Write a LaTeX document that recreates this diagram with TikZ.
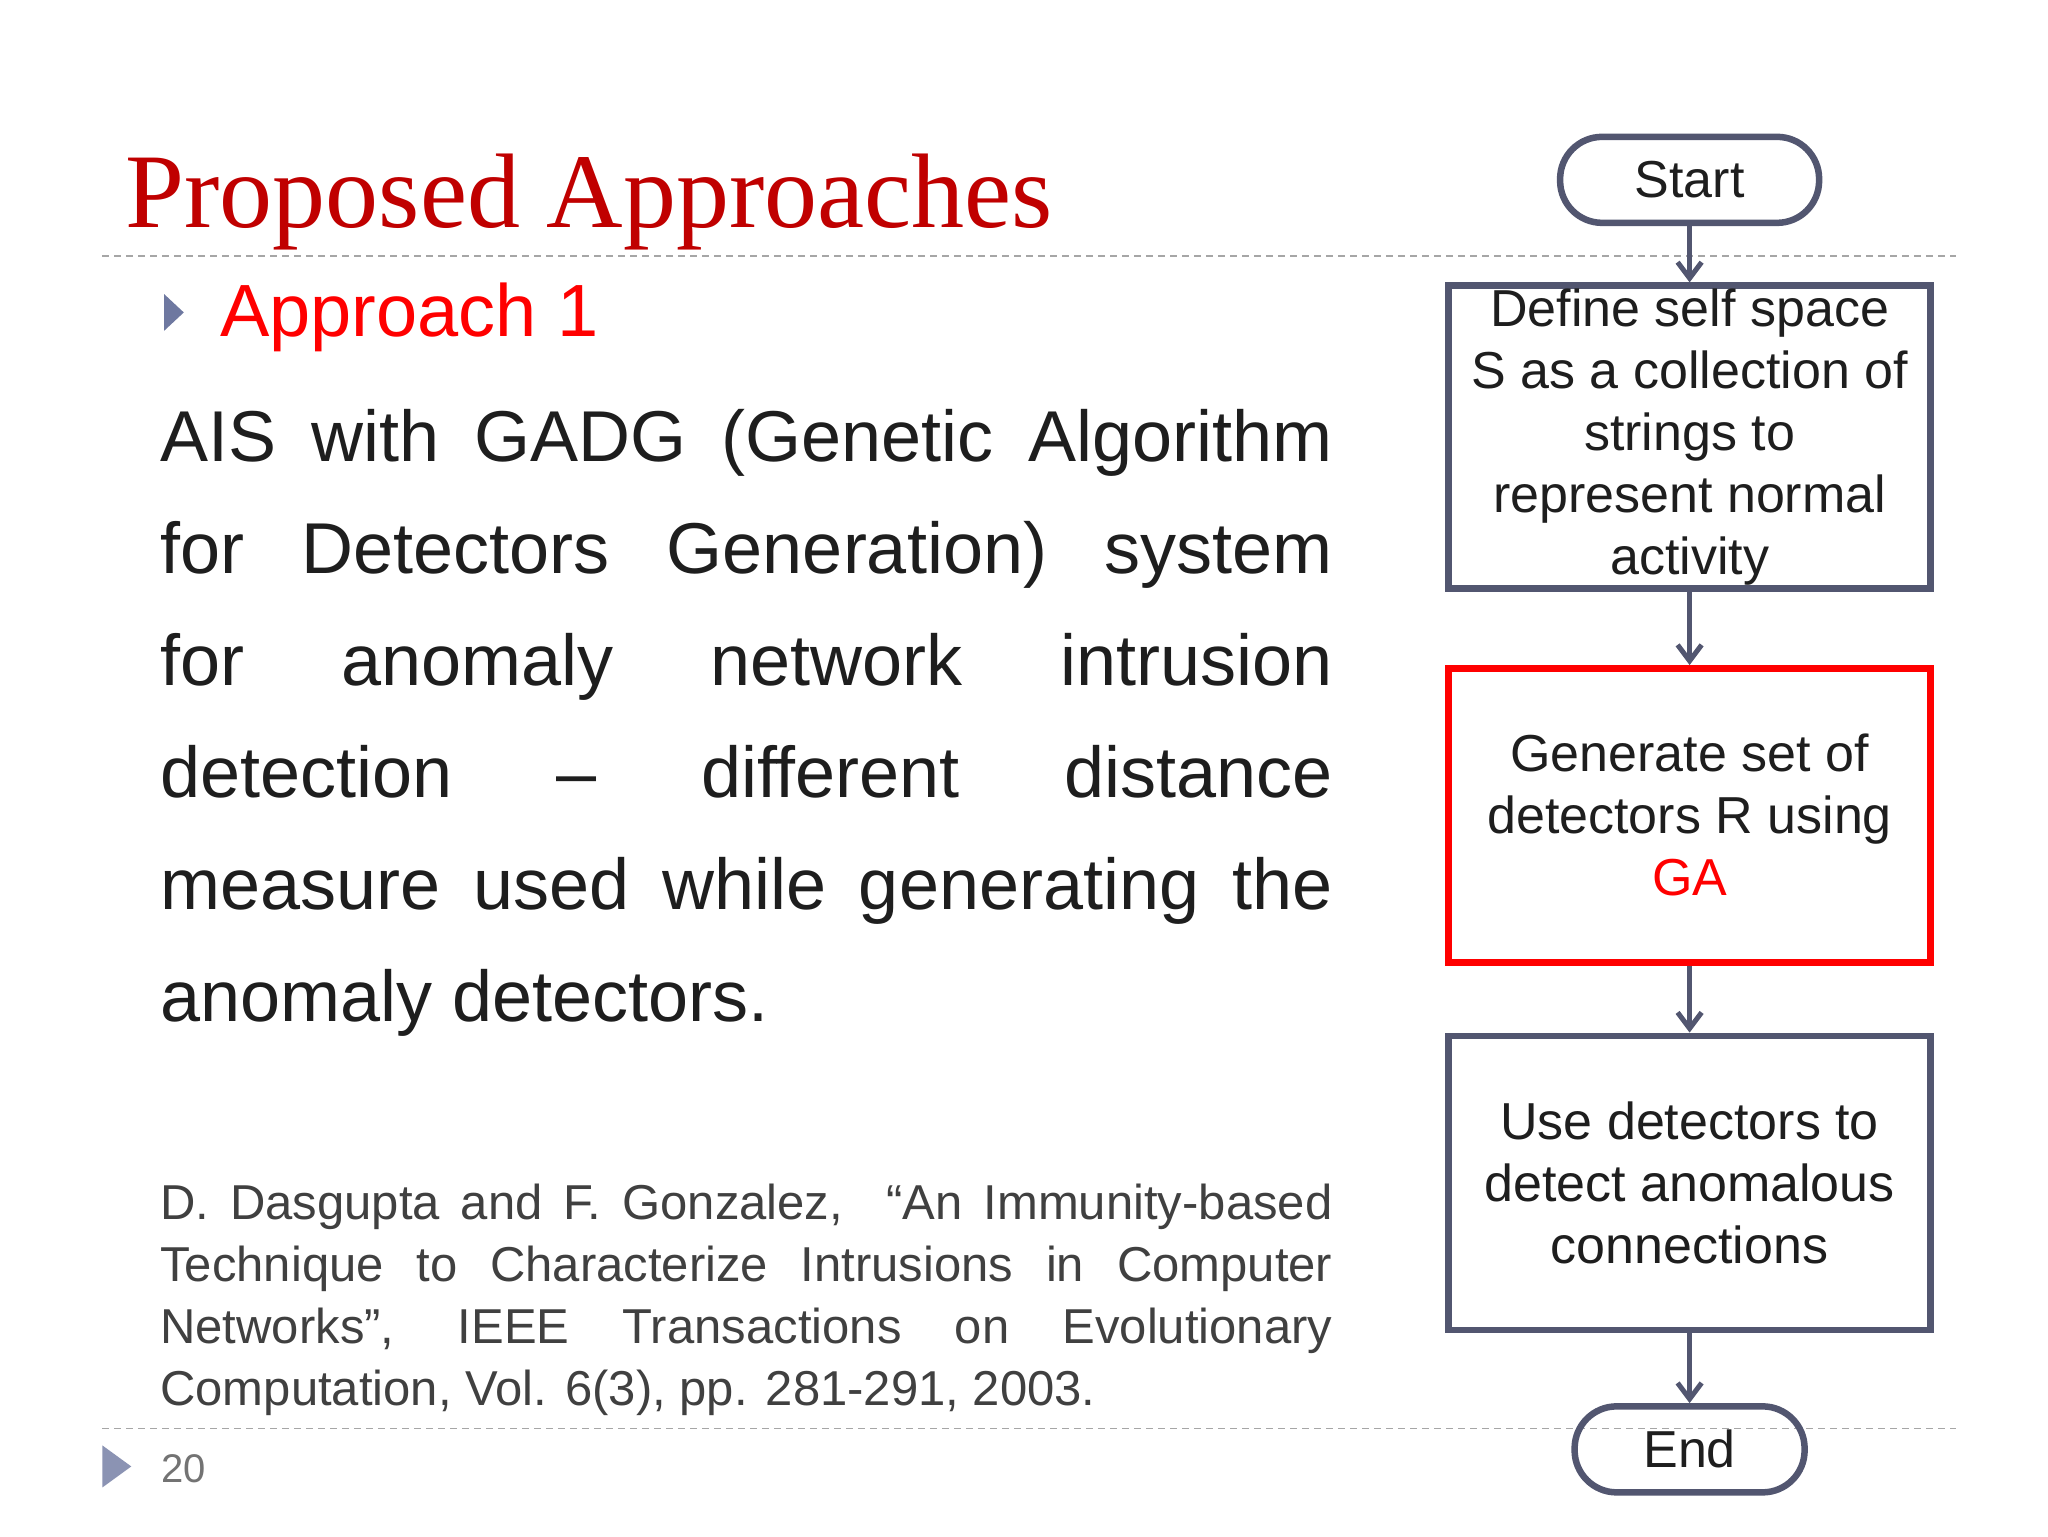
\documentclass[tikz,border=0pt]{standalone}
\usepackage{fontspec}
\setmainfont{Liberation Sans}
\newfontfamily\serifti{Liberation Serif}
\usetikzlibrary{arrows.meta}
\definecolor{boxc}{RGB}{82,86,112}
\definecolor{titlered}{RGB}{192,0,0}
\definecolor{bulc}{RGB}{110,120,160}
\definecolor{txt}{RGB}{30,30,30}
\newcommand{\nohyph}{\hyphenpenalty10000\exhyphenpenalty10000\relax}
\begin{document}
\begin{tikzpicture}[x=1.3128pt,y=-1.3128pt,
  fbox/.style={draw=boxc,line width=6.5pt,minimum width=482pt,minimum height=294pt,align=center,font=\fontsize{52}{62}\selectfont,text=txt},
  term/.style={draw=boxc,line width=6.5pt,rounded corners=42pt,minimum height=86pt,font=\fontsize{52}{62}\selectfont,text=txt},
  arr/.style={draw=boxc,line width=5pt,-{Straight Barb[length=16pt,width=24pt,line width=5pt]}},
  sep/.style={draw=gray!70,line width=1.5pt,dash pattern=on 7pt off 5pt}]
\useasboundingbox (0,0) rectangle (1560,1170);
\fill[white] (0,0) rectangle (1560,1170);
\draw[sep] (78,195) -- (1490,195);
\draw[sep] (78,1088) -- (1490,1088);
\node[anchor=base west,text=titlered,font=\serifti\fontsize{106}{118}\selectfont] (title) at (93,173) {Proposed Approaches};
\fill[bulc] (125,224) -- (140,238) -- (125,252) -- cycle;
\node[anchor=base west,text=red,font=\fontsize{74}{90}\selectfont] (ap) at (165,256) {Approach 1};
\node[anchor=north west,inner sep=0pt,text width=1172pt,align=justify,text=txt,font=\fontsize{72}{112}\selectfont] (body) at (122,312)
{\nohyph AIS with GADG (Genetic Algorithm\linebreak for Detectors Generation) system\linebreak for anomaly network intrusion\linebreak detection -- different distance\linebreak measure used while generating the\linebreak anomaly detectors.};
\node[anchor=north west,inner sep=0pt,text width=1172pt,align=justify,text=txt!85,font=\fontsize{49}{62}\selectfont] (ref) at (122,902)
{\nohyph D. Dasgupta and F. Gonzalez, \ ``An Immunity-based\linebreak Technique to Characterize Intrusions in Computer\linebreak Networks'', IEEE Transactions on Evolutionary\linebreak Computation, Vol. 6(3), pp. 281-291, 2003.};
\fill[bulc!80] (78,1101) -- (100,1117) -- (78,1133) -- cycle;
\node[anchor=base west,text=gray!90!black,font=\fontsize{40}{48}\selectfont] (pg) at (120,1129) {20};
\node[term,minimum width=259pt] (start) at (1287,137) {Start};
\node[fbox] (def) at (1287,333) {Define self space\\S as a collection of\\strings to\\represent normal\\activity};
\node[fbox,draw=red] (gen) at (1287,621) {Generate set of\\detectors R using\\\textcolor{red}{GA}};
\node[fbox] (use) at (1287,901) {Use detectors to\\detect anomalous\\connections};
\node[term,minimum width=230pt] (end) at (1287,1104) {End};
\draw[arr] (start) -- (def);
\draw[arr] (def) -- (gen);
\draw[arr] (gen) -- (use);
\draw[arr] (use) -- (end);
\end{tikzpicture}
\end{document}
